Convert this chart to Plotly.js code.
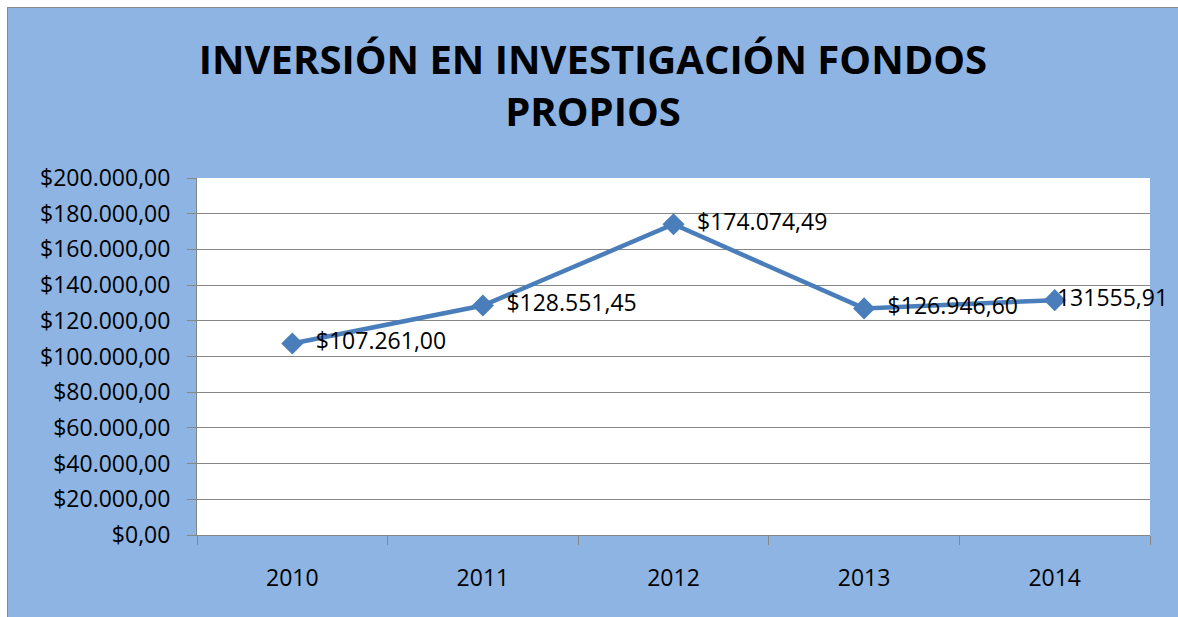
<!DOCTYPE html>
<html>
<head>
<meta charset="utf-8">
<script src="https://cdn.plot.ly/plotly-3.0.1.min.js"></script>
<style>
  html, body { margin: 0; padding: 0; background: #ffffff; width: 1178px; height: 617px; overflow: hidden; }
  #wrap { position: absolute; left: 7px; top: 7px; border-left: 1px solid #8a8a8a; border-top: 1px solid #8a8a8a; }
  #chart { width: 1170px; height: 609px; }
</style>
</head>
<body>
<div id="wrap"><div id="chart"></div></div>
<script>
const years = ["2010", "2011", "2012", "2013", "2014"];
const inversion = [107261.00, 128551.45, 174074.49, 126946.60, 131555.91];
const labels = ["$107.261,00", "$128.551,45", "$174.074,49", "$126.946,60", "131555,91"];
const yTicks = [0, 20000, 40000, 60000, 80000, 100000, 120000, 140000, 160000, 180000, 200000];

const lineColor = "#4A7EBB";
const gray = "#868686";
const font = "'Open Sans', 'DejaVu Sans', sans-serif";

const lineTrace = {
  x: years,
  y: inversion,
  type: "scatter",
  mode: "lines+markers",
  line: { color: lineColor, width: 4.5 },
  marker: { symbol: "diamond", size: 17, color: lineColor },
  cliponaxis: false,
  hoverinfo: "x+y"
};

// invisible markers only used to push the value labels to the right of the points
const labelTrace = {
  x: years,
  y: inversion,
  type: "scatter",
  mode: "markers+text",
  text: labels,
  textposition: "middle right",
  textfont: { family: font, size: 23, color: "#000000" },
  marker: { size: [36, 36, 36, 36, 2], color: "rgba(0,0,0,0)", line: { width: 0, color: "rgba(0,0,0,0)" } },
  cliponaxis: false,
  hoverinfo: "skip"
};

const layout = {
  width: 1170,
  height: 609,
  paper_bgcolor: "#8EB4E3",
  plot_bgcolor: "#ffffff",
  margin: { l: 189, r: 28, t: 170, b: 82 },
  separators: ",.",
  showlegend: false,
  title: {
    text: "INVERSIÓN EN INVESTIGACIÓN FONDOS<br>PROPIOS",
    font: { family: font, size: 40, color: "#000000", weight: "bold" },
    x: 0.5, xref: "container", xanchor: "center",
    y: 1 - 66 / 609, yref: "container", yanchor: "top"
  },
  xaxis: {
    type: "category",
    tickson: "boundaries",
    ticks: "outside",
    ticklen: 9,
    tickcolor: gray,
    showline: true,
    linecolor: gray,
    linewidth: 1,
    showgrid: false,
    ticklabelstandoff: 22,
    tickfont: { family: font, size: 23, color: "#000000" },
    range: [-0.5, 4.5]
  },
  yaxis: {
    range: [0, 200000],
    tickmode: "array",
    tickvals: yTicks,
    tickformat: "$,.2f",
    ticks: "outside",
    ticklen: 9,
    tickcolor: gray,
    showline: true,
    linecolor: gray,
    linewidth: 1,
    showgrid: true,
    gridcolor: gray,
    gridwidth: 1,
    zeroline: false,
    ticklabelstandoff: 12,
    tickfont: { family: font, size: 23, color: "#000000" }
  }
};

Plotly.newPlot("chart", [lineTrace, labelTrace], layout, { displayModeBar: false });
</script>
</body>
</html>
